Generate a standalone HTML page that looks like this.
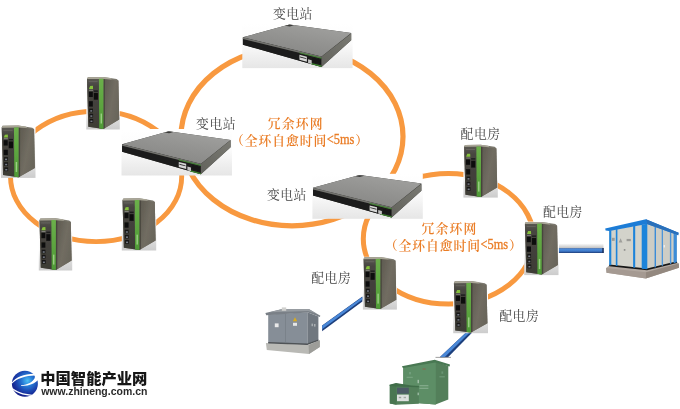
<!DOCTYPE html>
<html lang="zh-CN">
<head>
<meta charset="utf-8">
<title>冗余环网</title>
<style>
html,body{margin:0;padding:0;background:#fff;}
body{width:680px;height:409px;overflow:hidden;}
svg{display:block;}
text{font-family:"Liberation Serif","Noto Serif CJK SC",serif;}
.lab{font-size:12.8px;fill:#444;font-weight:400;}
.org{font-size:12.8px;fill:#ea7d26;font-weight:600;}
.lat{font-size:15.5px;font-weight:400;stroke:#ea7d26;stroke-width:0.35px;}
.lg1{font-family:"Liberation Sans","Noto Sans CJK SC",sans-serif;font-size:15px;font-weight:900;fill:#151515;}
.lg2{font-family:"Liberation Sans","Noto Sans CJK SC",sans-serif;font-size:11.2px;font-weight:700;fill:#2a2a2a;}
</style>
</head>
<body>
<svg width="680" height="409" viewBox="0 0 680 409">
<rect width="680" height="409" fill="#ffffff"/>

<defs>
  <linearGradient id="bgfade" x1="0" y1="0" x2="0" y2="1">
    <stop offset="0" stop-color="#ffffff"/>
    <stop offset="0.6" stop-color="#fbfbfb"/>
    <stop offset="0.8" stop-color="#dddddd"/>
    <stop offset="1" stop-color="#cccccc"/>
  </linearGradient>
  <linearGradient id="swbg" x1="0" y1="0" x2="0" y2="1">
    <stop offset="0" stop-color="#ffffff"/>
    <stop offset="0.45" stop-color="#fbfbfb"/>
    <stop offset="0.75" stop-color="#efefef"/>
    <stop offset="1" stop-color="#e6e6e6"/>
  </linearGradient>
  <linearGradient id="dinside" x1="0" y1="0" x2="1" y2="0.6">
    <stop offset="0" stop-color="#5c584e"/>
    <stop offset="0.6" stop-color="#716d62"/>
    <stop offset="1" stop-color="#69655a"/>
  </linearGradient>
  <linearGradient id="dinfront" x1="0" y1="0" x2="0" y2="1">
    <stop offset="0" stop-color="#5a5852"/>
    <stop offset="0.15" stop-color="#474540"/>
    <stop offset="1" stop-color="#3d3b35"/>
  </linearGradient>
  <linearGradient id="dingreen" x1="0" y1="0" x2="0" y2="1">
    <stop offset="0" stop-color="#6bb04a"/>
    <stop offset="1" stop-color="#4f9a36"/>
  </linearGradient>
  <linearGradient id="swtop" x1="0.9" y1="0" x2="0.3" y2="1">
    <stop offset="0" stop-color="#a2a2a0"/>
    <stop offset="0.5" stop-color="#939391"/>
    <stop offset="1" stop-color="#858583"/>
  </linearGradient>
  <linearGradient id="swright" x1="0" y1="1" x2="1" y2="0">
    <stop offset="0" stop-color="#62625c"/>
    <stop offset="1" stop-color="#7a7a73"/>
  </linearGradient>
  <linearGradient id="cable" x1="0" y1="0" x2="0" y2="1">
    <stop offset="0" stop-color="#2f5ea6"/>
    <stop offset="0.25" stop-color="#4c8ad8"/>
    <stop offset="0.6" stop-color="#3f7bcb"/>
    <stop offset="1" stop-color="#1c3c78"/>
  </linearGradient>
  <linearGradient id="cshadow" x1="0" y1="0" x2="0" y2="1">
    <stop offset="0" stop-color="#ffffff"/>
    <stop offset="1" stop-color="#bdbdbd"/>
  </linearGradient>
  <radialGradient id="ball" cx="0.6" cy="0.38" r="0.62">
    <stop offset="0" stop-color="#4cc0f4"/>
    <stop offset="0.35" stop-color="#2678d4"/>
    <stop offset="0.75" stop-color="#1a3aa6"/>
    <stop offset="1" stop-color="#14208a"/>
  </radialGradient>
  <filter id="soft" x="-5%" y="-5%" width="110%" height="110%"><feGaussianBlur stdDeviation="0.45"/></filter>
  <filter id="softd" x="-5%" y="-5%" width="110%" height="110%"><feGaussianBlur stdDeviation="0.55"/></filter>
  <filter id="soft2" x="-5%" y="-5%" width="110%" height="110%"><feGaussianBlur stdDeviation="0.4"/></filter>
  <filter id="soft3" x="-5%" y="-20%" width="110%" height="140%"><feGaussianBlur stdDeviation="0.3"/></filter>

  <g id="din">
    <rect x="0" y="0" width="34" height="53" fill="url(#bgfade)"/>
    <g filter="url(#softd)">
    <polygon points="0.7,2 1.6,0.5 17,0.3 30.8,2.4 32.6,3.8 33.4,43 17.4,52.4 2,50.2" fill="#7b786e"/>
    <polygon points="17.4,1.8 32.6,4 33.4,43 17.4,52.4" fill="url(#dinside)"/>
    <polygon points="17.4,1.8 18.8,2 18.8,51.5 17.4,52.4" fill="#47443c"/>
    <polygon points="0.7,2.2 17.4,2 17.4,52.4 2,50.2" fill="url(#dinfront)"/>
    <polygon points="0.9,1.9 1.6,0.5 17,0.3 24.6,1.3 25.8,2.8 17.4,2.2 0.9,2.4" fill="#a9a697"/>
    <polygon points="12.8,2.1 17.4,2 17.4,52.4 13.1,51.9" fill="url(#dingreen)"/>
    <rect x="14.5" y="37" width="1.4" height="10" fill="#c9efb6" opacity="0.6"/>
    <rect x="2.4" y="4.6" width="9" height="0.8" fill="#6b6963"/>
    <polygon points="2.7,12.4 3.8,9.4 6.7,9.2 6.9,12.4" fill="#86c13c"/>
    <rect x="2.8" y="13.2" width="4" height="0.7" fill="#9a9a94"/>
    <rect x="2.6" y="15" width="4" height="5.4" fill="#0f0f0f"/>
    <rect x="7.6" y="13.7" width="4.2" height="1.5" fill="#1f1f1f"/>
    <rect x="7.6" y="16.3" width="4.2" height="6.8" fill="#0f0f0f"/>
    <rect x="2.7" y="24.6" width="4" height="5.4" fill="#0f0f0f"/>
    <rect x="3" y="32" width="3.8" height="3.7" fill="#191918"/>
    <rect x="3.1" y="37.2" width="3.8" height="3.7" fill="#191918"/>
    <rect x="3.2" y="42.4" width="3.8" height="3.8" fill="#191918"/>
    <rect x="4" y="33.6" width="2" height="1.5" fill="#777c86"/>
    <rect x="4.1" y="38.8" width="2" height="1.5" fill="#777c86"/>
    <rect x="4.2" y="44" width="2" height="1.5" fill="#777c86"/>
    </g>
  </g>

  <g id="sw">
    <rect x="0" y="0" width="110" height="45" fill="url(#swbg)"/>
    <g filter="url(#soft)">
    <polygon points="0.6,14 47,1.3 108.6,9.8 108.6,17 79,43.8 0.6,21.6" fill="#3a3a37"/>
    <polygon points="0.6,14 47,1.3 108.6,9.8 79,33.4" fill="url(#swtop)"/>
    <polygon points="0.6,14.4 79,33.7 79,43.8 0.6,21.6" fill="#1b1b1a"/>
    <polygon points="79,33.7 108.6,10.2 108.6,17 79,43.8" fill="url(#swright)"/>
    <polygon points="0.6,14 79,33.4 79,35.2 0.6,15.7" fill="#72726e"/>
    <polygon points="57,29 79,34.4 79,35.6 57,30.2" fill="#448036"/>
    <polygon points="68,39.6 79,42.5 79,43.8 68,41" fill="#3f8530"/>
    <polygon points="57,31.6 64.4,33.5 64.4,38.6 57,36.6" fill="#d6d6d6"/>
    <polygon points="57.6,33.4 63.8,35 63.8,35.9 57.6,34.3" fill="#2c2c2c"/>
    <polygon points="65.6,36.2 69.2,37.2 69.2,40.8 65.6,39.8" fill="#c4c4c4"/>
    <polygon points="70.4,35.2 78.2,37.2 78.2,40.4 70.4,38.4" fill="#141414"/>
    <polygon points="42.6,2.5 47,1.4 51.6,2 47.4,3.2" fill="#3b3b39"/>
    </g>
  </g>
</defs>


<g fill="none" stroke="#f8993f" filter="url(#soft2)">
  <ellipse cx="96.1" cy="176.4" rx="85.6" ry="65.2" stroke-width="4.9"/>
  <ellipse cx="292" cy="136.5" rx="111" ry="89.3" stroke-width="5.2"/>
  <ellipse cx="448.5" cy="238.8" rx="85.2" ry="65.3" stroke-width="5"/>
</g>


<g>
  <rect x="559" y="243.4" width="44.5" height="5" fill="url(#cshadow)"/>
  <rect x="558.8" y="248.2" width="44.8" height="4.8" fill="url(#cable)" filter="url(#soft3)"/>
  <rect x="602.3" y="248" width="1.4" height="5" fill="#1c2f57" filter="url(#soft3)"/>
  <g filter="url(#soft2)">
  <polygon points="322.1,325.4 362.4,296.5 362.4,301.5 322.1,331.2" fill="#1f3f7c"/>
  <polygon points="322.1,325.8 362.4,296.9 362.4,299.6 322.1,329.2" fill="#4a88d8"/>
  <polygon points="465.7,332.8 472,332.8 448,357.3 439.7,357.3" fill="#1f3f7c"/>
  <polygon points="465.9,332.8 469.4,332.8 444.6,357.3 439.9,357.3" fill="#4a88d8"/>
  <rect x="435.5" y="356.9" width="15.5" height="0.8" fill="#888"/>
  </g>
</g>


<!-- blue/white substation (right) -->
<g filter="url(#soft)" transform="translate(0,219.2) scale(1,1.017) translate(0,-219.2)">
  <polygon points="606.1,267.1 609.2,264.8 647,268.6 677,261.6 678.8,262.7 679,267 645.9,277.6 606.5,271.8" fill="#b3a9a1"/>
  <polygon points="606.1,267.1 645.9,271.4 645.9,277.6 606.5,271.8" fill="#a59a92"/>
  <polygon points="645.9,271.4 678.8,262.7 679,267 645.9,277.6" fill="#93887f"/>
  <polygon points="609.2,230.4 647,223.6 647,269 609.2,265.2" fill="#d3d3cb"/>
  <polygon points="647,223.6 677,234.4 677,262 647,269" fill="#cdcdc5"/>
  <polygon points="609.2,263.8 647,267.6 677,260.6 677,262.2 647,269.4 609.2,265.4" fill="#151515"/>
  <polygon points="609.2,230.4 611.3,230 611.3,264.6 609.2,264.4" fill="#1e84da"/>
  <polygon points="615.8,229.2 617.4,228.9 617.4,265.2 615.8,265" fill="#1e84da"/>
  <polygon points="633.1,226.1 635.2,225.7 635.2,267 633.1,266.8" fill="#1e84da"/>
  <polygon points="641.7,224.6 647.3,223.6 647.3,268.4 641.7,267.8" fill="#1e84da"/>
  <polygon points="654.6,226.4 656,227 656,266.4 654.6,266.8" fill="#3a8cd8"/>
  <polygon points="661.7,229 663,229.5 663,264.8 661.7,265.1" fill="#4d96da"/>
  <polygon points="669.9,232 671.3,232.5 671.3,262.9 669.9,263.2" fill="#4d96da"/>
  <polygon points="673.6,233.3 676.8,234.4 676.8,261.6 673.6,262.4" fill="#3a8cd8"/>
  <polygon points="605.2,228.3 645.9,219.2 678.6,232.5 678.2,235 647,224 609.4,230.8 605.6,230.4" fill="#1b7cd6"/>
  <polygon points="645.9,219.2 678.6,232.5 678.2,235 647,224 647,221.6" fill="#2a6fba"/>
  <rect x="611.9" y="237.5" width="2.8" height="3" fill="#9b9b97"/>
  <rect x="626.6" y="238.6" width="4.2" height="2.2" fill="#9b9b97"/>
  <polygon points="620.6,238 622.5,242 618.7,242" fill="#9f9f9b"/>
  <rect x="623.8" y="248.6" width="1.6" height="1.6" fill="#8a8a88"/>
  <rect x="663.6" y="244.6" width="1.4" height="2.4" fill="#ececec"/>
</g>
<!-- grey substation -->
<g filter="url(#soft)">
  <polygon points="265.9,343 308.6,345 319.8,340.2 319.8,347 309,354 266.8,350" fill="#b9b9b5"/>
  <polygon points="308.6,345 319.8,340.2 319.8,347 309,354" fill="#9d9d99"/>
  <polygon points="268.2,314.6 307.4,312.2 307.4,344.4 268.2,342.8" fill="#868e97"/>
  <polygon points="307.4,312.2 318.4,316.6 318.4,340.4 307.4,344.4" fill="#6f777f"/>
  <polygon points="268.2,342 307.4,343.4 318.4,339.4 318.4,340.8 307.4,345 268.2,343.6" fill="#4f5356"/>
  <polygon points="265.4,313 282.4,309 308.8,309 320.4,315.8 319.8,317 308,312.6 266.2,315.2" fill="#7a8087"/>
  <polygon points="282.4,309 308.8,309 316.4,313.4 308,311 269.6,312.2" fill="#979ca1"/>
  <rect x="281.8" y="307.4" width="4.4" height="3.4" fill="#d0d0ce"/>
  <rect x="274.8" y="323.4" width="3.8" height="3.8" fill="#e9e9e9"/>
  <rect x="293" y="322.8" width="4" height="3" fill="#e6e6e6"/>
  <polygon points="295,317.2 297.2,321.2 292.8,321.2" fill="#d8ab20"/>
  <rect x="311.6" y="323.6" width="1.2" height="2.6" fill="#b9bcbe"/>
  <rect x="314.2" y="324" width="1.2" height="2.6" fill="#b9bcbe"/>
  <rect x="285" y="314" width="0.6" height="29" fill="#747b83"/>
</g>
<!-- green substation -->
<g filter="url(#soft)">
  <polygon points="403.3,367 435.5,361.6 448.3,366 448.3,399.6 435.5,404.6 403.3,402" fill="#527f5a"/>
  <polygon points="403.3,367 435.8,361.6 435.8,404.6 403.3,402" fill="#5d8e66"/>
  <polygon points="401.9,366.2 434.7,359.8 450,364.5 449.6,366.4 435.2,362.4 402.9,368.1" fill="#497852"/>
  <polygon points="389.8,385 396,383.6 411.2,386 418.8,386.6 418.8,403.8 396.4,404.8 389.8,403.6" fill="#527f5a"/>
  <polygon points="389.8,385 396.4,386 396.4,404.8 389.8,403.6" fill="#487651"/>
  <polygon points="389.4,384.7 396,383.1 411.4,385.6 419,386 418.8,387.2 396.4,386.6 389.8,386" fill="#3f6d49"/>
  <rect x="397" y="387.7" width="11.8" height="6" fill="#4e5a66"/>
  <rect x="397" y="394.6" width="11.8" height="6.6" fill="#dde0df"/>
  <rect x="398.8" y="396.8" width="2.4" height="1.4" fill="#9a9f9c"/>
  <rect x="403.6" y="396.8" width="2.4" height="1.4" fill="#a5aaa7"/>
  <rect x="406.6" y="376.8" width="6.2" height="0.9" fill="#8db596" opacity="0.7"/>
  <rect x="409" y="372" width="2" height="2.4" fill="#7fa989" opacity="0.6"/>
  <rect x="417.6" y="379.8" width="1.2" height="3.4" fill="#b5ccba"/>
  <rect x="419.4" y="385.4" width="9" height="0.8" fill="#a9c7b0" opacity="0.8"/>
  <rect x="419.4" y="387.8" width="9" height="0.8" fill="#a9c7b0" opacity="0.8"/>
  <rect x="417.6" y="392.6" width="1.2" height="2.6" fill="#a9c4af"/>
  <rect x="422.6" y="368.4" width="3" height="1.3" fill="#8a6650" opacity="0.8"/>
  <rect x="439.4" y="376.4" width="5.4" height="0.9" fill="#86ae8f" opacity="0.7"/>
  <rect x="441.4" y="371.4" width="1.8" height="2.4" fill="#7aa484" opacity="0.6"/>
</g>

<g transform="translate(242.3,23.3) scale(1.0027,0.9956)"><use href="#sw"/></g>
<rect x="121.5" y="129" width="110.5" height="2" fill="#fff"/>
<g transform="translate(121.5,130) scale(1.0045,1.0111)"><use href="#sw"/></g>
<g transform="translate(312.4,173.8) scale(1.0036,1.0000)"><use href="#sw"/></g>
<g transform="translate(86.3,76.7) scale(0.9853,0.9962)"><use href="#din"/></g>
<g transform="translate(1,125.3) scale(1.0147,0.9925)"><use href="#din"/></g>
<g transform="translate(38.8,218) scale(0.9824,0.9906)"><use href="#din"/></g>
<g transform="translate(121.8,198) scale(1.0118,0.9906)"><use href="#din"/></g>
<g transform="translate(463.4,144.4) scale(1.0118,1.0038)"><use href="#din"/></g>
<g transform="translate(524.2,221.6) scale(1.0088,1.0094)"><use href="#din"/></g>
<g transform="translate(362.9,256.8) scale(1.0000,0.9962)"><use href="#din"/></g>
<g transform="translate(453.2,280.8) scale(1.0235,0.9887)"><use href="#din"/></g>
<g filter="url(#soft3)">
<text x="273.0 286.3 299.6" y="18" class="lab">变电站</text>
<text x="196.1 209.4 222.7" y="128.2" class="lab">变电站</text>
<text x="267.0 280.3 293.6" y="198.5" class="lab">变电站</text>
<text x="460.6 473.9 487.2" y="138" class="lab">配电房</text>
<text x="543.0 556.3 569.6" y="216" class="lab">配电房</text>
<text x="311.3 324.6 337.9" y="281.8" class="lab">配电房</text>
<text x="499.3 512.6 525.9" y="320.2" class="lab">配电房</text>
<text x="267.8 281.8 295.8 309.8" y="128.2" class="org">冗余环网</text>
<text class="org"><tspan x="231.0 244.8 258.5 272.2 286.0 299.8 313.5" y="144.79999999999998">（全环自愈时间</tspan><tspan x="326.8" y="144.2" class="lat" textLength="27.6" lengthAdjust="spacingAndGlyphs">&lt;5ms</tspan><tspan x="355.3" y="144.79999999999998">）</tspan></text>
<text x="421.5 435.5 449.5 463.5" y="233.2" class="org">冗余环网</text>
<text class="org"><tspan x="384.7 398.4 412.2 425.9 439.7 453.4 467.2" y="249.79999999999998">（全环自愈时间</tspan><tspan x="480.5" y="249.2" class="lat" textLength="27.6" lengthAdjust="spacingAndGlyphs">&lt;5ms</tspan><tspan x="509.0" y="249.79999999999998">）</tspan></text>
</g>

<g>
  <g filter="url(#soft2)">
  <circle cx="24.9" cy="383.8" r="13" fill="url(#ball)"/>
  <path d="M11.9,382.4 C15.4,377.4 24,374 34.2,373.7 L35.6,375.6 C26.5,375.4 17,378.6 12.1,383.4 Z" fill="#ffffff"/>
  <path d="M34.2,373.7 L39,375 L38.6,380.6 L37.2,380.4 C35.6,382.8 30.5,385.8 21.2,385.9 L21,385.2 C28,384.6 32.8,382 34.6,378.2 C35,377 35,376.2 34.4,375.4 Z" fill="#ffffff"/>
  <path d="M11.9,387.6 C15.8,391.2 23.6,394.4 32.2,394.7 L31.4,395.7 C23,395.4 15.4,392.6 12.3,389 Z" fill="#ffffff"/>
  </g>
  <g filter="url(#soft3)">
  <text x="40.3" y="384.4" class="lg1" textLength="107" lengthAdjust="spacingAndGlyphs">中国智能产业网</text>
  <text x="41.2" y="394.9" class="lg2" textLength="106.2" lengthAdjust="spacingAndGlyphs">www.zhineng.com.cn</text>
  </g>
</g>

</svg>
</body>
</html>
